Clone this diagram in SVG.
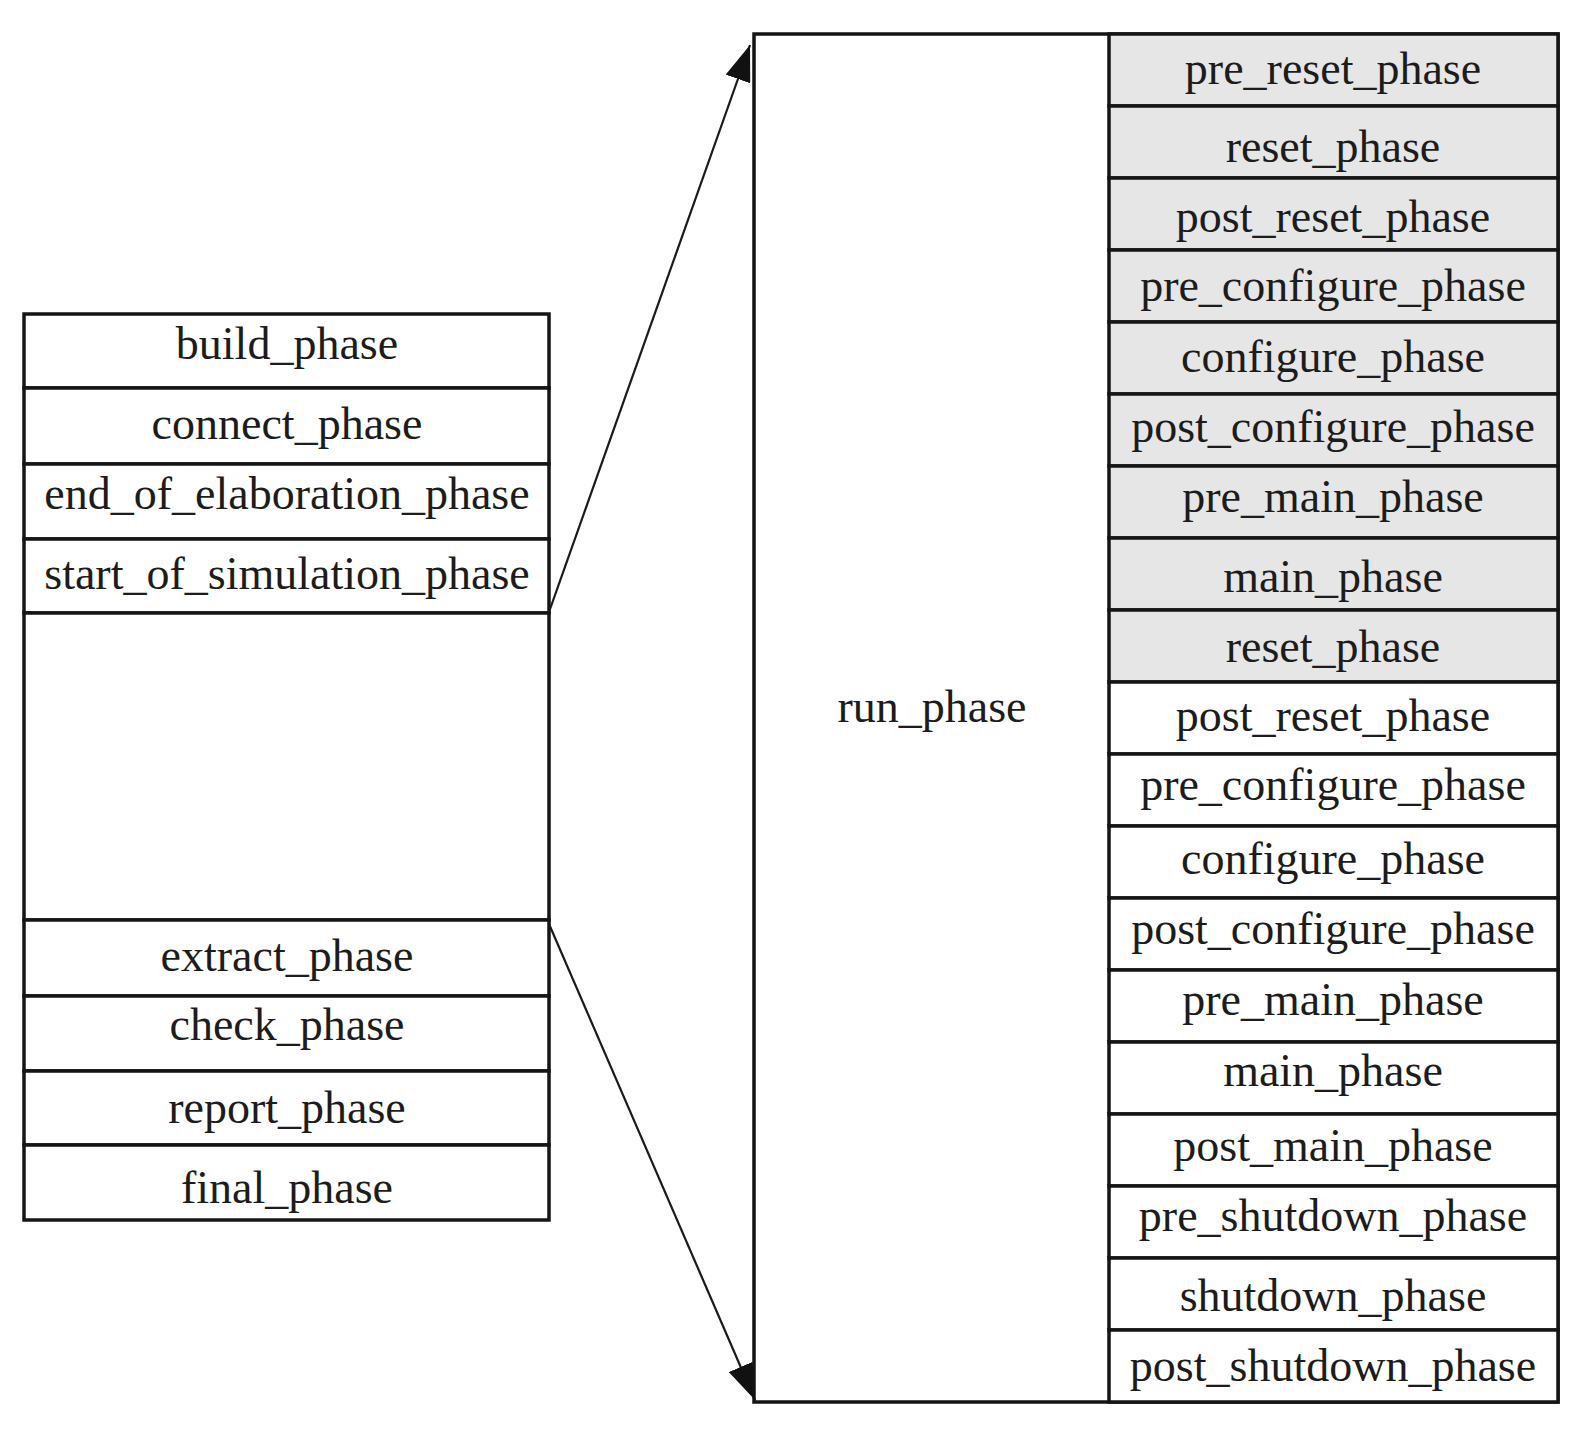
<svg xmlns="http://www.w3.org/2000/svg" width="1574" height="1433" viewBox="0 0 1574 1433">
<style>
.box{fill:#fff;stroke:#151515;stroke-width:3.5}
.g{fill:#e6e6e6;stroke:#151515;stroke-width:3.5}
.t{font-family:"Liberation Serif","Times New Roman",serif;font-size:46px;fill:#1c1c1c;text-anchor:middle}
.c{stroke:#1a1a1a;stroke-width:2.2;fill:none}
</style>
<defs>
<marker id="ah" markerUnits="userSpaceOnUse" viewBox="0 0 36 26" refX="36" refY="13" markerWidth="36" markerHeight="26" orient="auto">
<path d="M0,0 L36,13 L0,26 z" fill="#111"/>
</marker>
</defs>
<rect width="1574" height="1433" fill="#fff"/>
<g id="left-phases">
<g id="build_phase"><rect class="box" x="24" y="314" width="525" height="74"/><text class="t" x="287" y="359">build_phase</text></g>
<g id="connect_phase"><rect class="box" x="24" y="388" width="525" height="76"/><text class="t" x="287" y="439">connect_phase</text></g>
<g id="end_of_elaboration_phase"><rect class="box" x="24" y="464" width="525" height="75"/><text class="t" x="287" y="509">end_of_elaboration_phase</text></g>
<g id="start_of_simulation_phase"><rect class="box" x="24" y="539" width="525" height="74"/><text class="t" x="287" y="589">start_of_simulation_phase</text></g>
<g id="gap"><rect class="box" x="24" y="613" width="525" height="307"/></g>
<g id="extract_phase"><rect class="box" x="24" y="920" width="525" height="76"/><text class="t" x="287" y="971">extract_phase</text></g>
<g id="check_phase"><rect class="box" x="24" y="996" width="525" height="75"/><text class="t" x="287" y="1040">check_phase</text></g>
<g id="report_phase"><rect class="box" x="24" y="1071" width="525" height="74"/><text class="t" x="287" y="1123">report_phase</text></g>
<g id="final_phase"><rect class="box" x="24" y="1145" width="525" height="75"/><text class="t" x="287" y="1203">final_phase</text></g>
</g>
<g id="run_phase">
<rect class="box" x="754" y="34" width="804" height="1368"/>
<text class="t" x="932" y="722">run_phase</text>
</g>
<g id="right-phases">
<g id="r1"><rect class="g" x="1109" y="34" width="449" height="72"/><text class="t" x="1333" y="84">pre_reset_phase</text></g>
<g id="r2"><rect class="g" x="1109" y="106" width="449" height="72"/><text class="t" x="1333" y="162">reset_phase</text></g>
<g id="r3"><rect class="g" x="1109" y="178" width="449" height="72"/><text class="t" x="1333" y="232">post_reset_phase</text></g>
<g id="r4"><rect class="g" x="1109" y="250" width="449" height="72"/><text class="t" x="1333" y="301">pre_configure_phase</text></g>
<g id="r5"><rect class="g" x="1109" y="322" width="449" height="72"/><text class="t" x="1333" y="372">configure_phase</text></g>
<g id="r6"><rect class="g" x="1109" y="394" width="449" height="72"/><text class="t" x="1333" y="442">post_configure_phase</text></g>
<g id="r7"><rect class="g" x="1109" y="466" width="449" height="72"/><text class="t" x="1333" y="512">pre_main_phase</text></g>
<g id="r8"><rect class="g" x="1109" y="538" width="449" height="72"/><text class="t" x="1333" y="592">main_phase</text></g>
<g id="r9"><rect class="g" x="1109" y="610" width="449" height="72"/><text class="t" x="1333" y="662">reset_phase</text></g>
<g id="r10"><rect class="box" x="1109" y="682" width="449" height="72"/><text class="t" x="1333" y="731">post_reset_phase</text></g>
<g id="r11"><rect class="box" x="1109" y="754" width="449" height="72"/><text class="t" x="1333" y="800">pre_configure_phase</text></g>
<g id="r12"><rect class="box" x="1109" y="826" width="449" height="72"/><text class="t" x="1333" y="874">configure_phase</text></g>
<g id="r13"><rect class="box" x="1109" y="898" width="449" height="72"/><text class="t" x="1333" y="944">post_configure_phase</text></g>
<g id="r14"><rect class="box" x="1109" y="970" width="449" height="72"/><text class="t" x="1333" y="1015">pre_main_phase</text></g>
<g id="r15"><rect class="box" x="1109" y="1042" width="449" height="72"/><text class="t" x="1333" y="1086">main_phase</text></g>
<g id="r16"><rect class="box" x="1109" y="1114" width="449" height="72"/><text class="t" x="1333" y="1161">post_main_phase</text></g>
<g id="r17"><rect class="box" x="1109" y="1186" width="449" height="72"/><text class="t" x="1333" y="1231">pre_shutdown_phase</text></g>
<g id="r18"><rect class="box" x="1109" y="1258" width="449" height="72"/><text class="t" x="1333" y="1311">shutdown_phase</text></g>
<g id="r19"><rect class="box" x="1109" y="1330" width="449" height="72"/><text class="t" x="1333" y="1381">post_shutdown_phase</text></g>
</g>
<g id="connectors">
<line class="c" x1="549" y1="612" x2="750" y2="45" marker-end="url(#ah)"/>
<line class="c" x1="549" y1="924" x2="755" y2="1400" marker-end="url(#ah)"/>
</g>
</svg>
